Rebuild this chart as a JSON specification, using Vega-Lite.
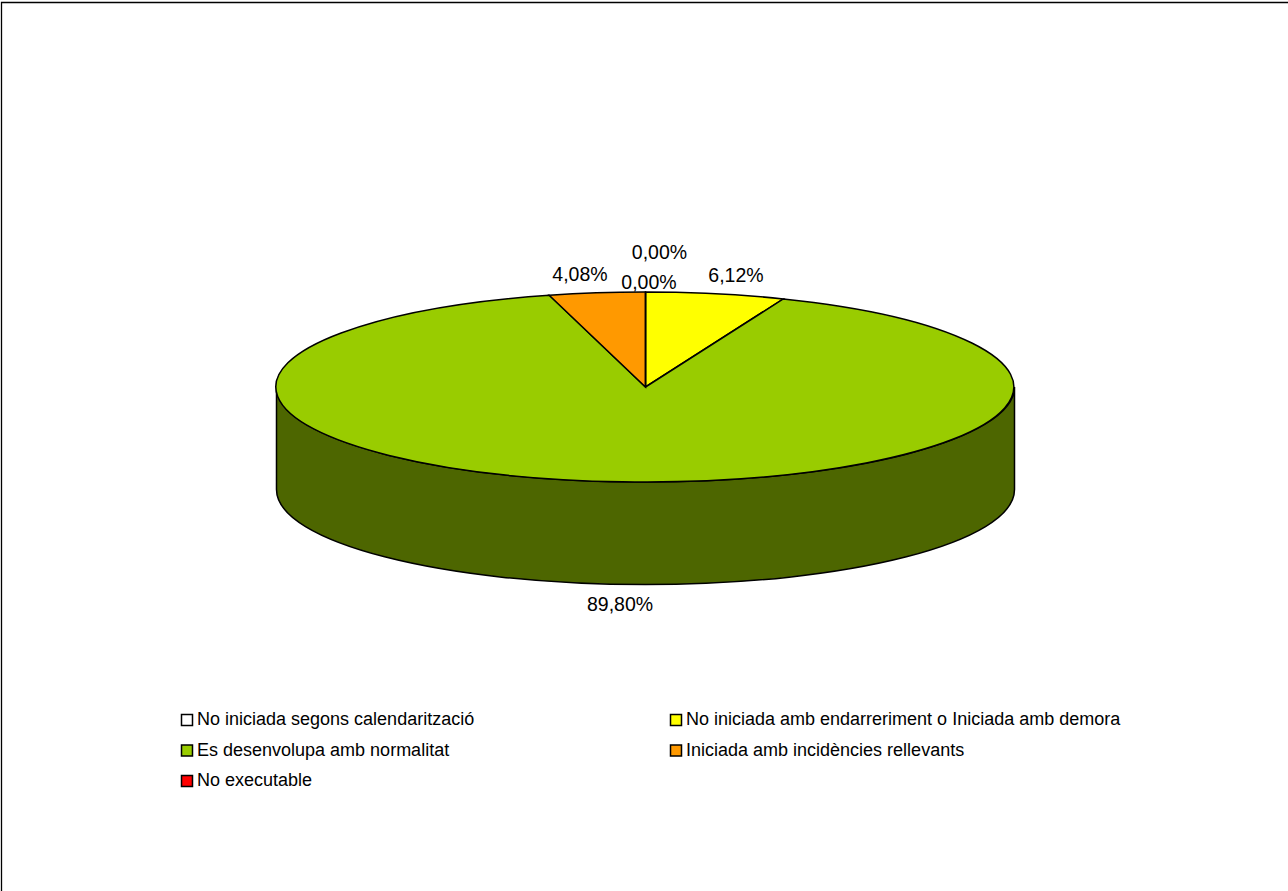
{
"$schema":"https://vega.github.io/schema/vega-lite/v6.json",
"width":1288,"height":891,"padding":0,"autosize":{"type":"none"},"background":"white",
"config":{"view":{"stroke":null},"text":{"font":"Liberation Sans"}},
"data":{"values":[
{"estat":"No iniciada segons calendarització","percent":0.00,"etiqueta":"0,00%"},
{"estat":"No iniciada amb endarreriment o Iniciada amb demora","percent":6.12,"etiqueta":"6,12%"},
{"estat":"Es desenvolupa amb normalitat","percent":89.80,"etiqueta":"89,80%"},
{"estat":"Iniciada amb incidències rellevants","percent":4.08,"etiqueta":"4,08%"},
{"estat":"No executable","percent":0.00,"etiqueta":"0,00%"}
]},
"layer":[
{"data":{"values":[{"marc":"vora"}]},
 "mark":{"type":"point","filled":false,"size":4,"stroke":"#000000","strokeWidth":1.3,"opacity":1,"shape":"M-642.5 445.5 L-642.5 -443 L644 -443"}},
{"transform":[{"filter":"datum.percent > 50"}],
 "mark":{"type":"point","filled":true,"size":4,"fill":"#4D6600","stroke":"#000000","strokeWidth":1.5,"opacity":1,"shape":"M-367.5 -58.5 A369 95 0 0 0 370.5 -58.5 L370.5 44.1 A369 95 0 0 1 -367.5 44.1 Z"}},
{"mark":{"type":"point","filled":true,"size":4,"stroke":"#000000","strokeWidth":1.5,"opacity":1},
 "encoding":{
  "color":{"field":"estat","type":"nominal","sort":null,
   "scale":{"domain":["No iniciada segons calendarització","No iniciada amb endarreriment o Iniciada amb demora","Es desenvolupa amb normalitat","Iniciada amb incidències rellevants","No executable"],
            "range":["#FFFFFF","#FFFF00","#99CC00","#FF9900","#FF0000"]},
   "legend":{"orient":"none","legendX":178,"legendY":711,"title":null,"columns":2,"direction":"horizontal","symbolType":"square","symbolSize":121,"symbolStrokeColor":"#000000","symbolStrokeWidth":1.5,"symbolOpacity":1,"labelFont":"Liberation Sans","labelFontSize":18,"labelColor":"#000000","labelOffset":1,"rowPadding":12.5,"columnPadding":192,"labelLimit":600}},
  "shape":{"field":"etiqueta","type":"nominal","sort":null,"legend":null,
   "scale":{"domain":["0,00%","6,12%","89,80%","4,08%"],
            "range":["M1.5 -58.5 L1.5 -153.5 Z","M1.5 -58.5 L1.5 -153.5 A369 95 0 0 1 139.3 -146.6 Z","M1.5 -58.5 L139.3 -146.6 A369 95 0 1 1 -94.8 -150.3 Z","M1.5 -58.5 L-94.8 -150.3 A369 95 0 0 1 1.5 -153.5 Z"]}}
 }},
{"transform":[{"filter":"datum.estat === 'No iniciada segons calendarització'"}],"mark":{"type":"text","fontSize":19.5,"font":"Liberation Sans","color":"#000000","dx":15.5,"dy":-192.5},"encoding":{"text":{"field":"etiqueta"}}},
{"transform":[{"filter":"datum.estat === 'No executable'"}],"mark":{"type":"text","fontSize":19.5,"font":"Liberation Sans","color":"#000000","dx":5,"dy":-162.5},"encoding":{"text":{"field":"etiqueta"}}},
{"transform":[{"filter":"datum.percent === 6.12"}],"mark":{"type":"text","fontSize":19.5,"font":"Liberation Sans","color":"#000000","dx":92,"dy":-169.5},"encoding":{"text":{"field":"etiqueta"}}},
{"transform":[{"filter":"datum.percent === 4.08"}],"mark":{"type":"text","fontSize":19.5,"font":"Liberation Sans","color":"#000000","dx":-64,"dy":-170.5},"encoding":{"text":{"field":"etiqueta"}}},
{"transform":[{"filter":"datum.percent === 89.8"}],"mark":{"type":"text","fontSize":19.5,"font":"Liberation Sans","color":"#000000","dx":-24,"dy":159.5},"encoding":{"text":{"field":"etiqueta"}}}
]
}
